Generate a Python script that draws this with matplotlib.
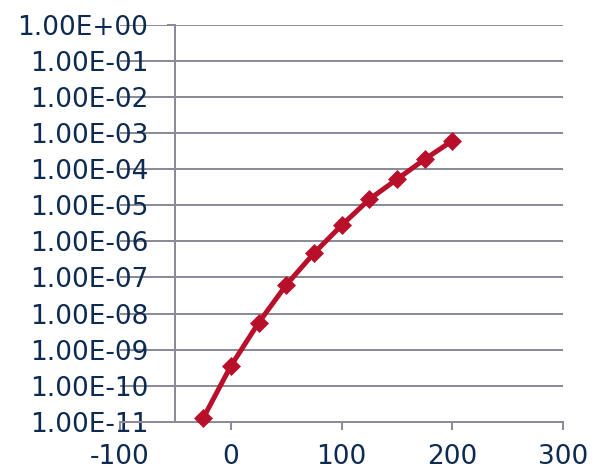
import matplotlib
matplotlib.use("Agg")
import matplotlib.pyplot as plt
from matplotlib.ticker import FixedLocator, FuncFormatter

# Data
temperature = [-25, 0, 25, 50, 75, 100, 125, 150, 175, 200]
values = [1.24e-11, 3.5e-10, 5.5e-9, 6.2e-8, 4.7e-7, 2.8e-6, 1.47e-5, 5.3e-5, 1.9e-4, 6.2e-4]
x_ticks = [-100, 0, 100, 200, 300]
y_exponents = list(range(0, -12, -1))

TEXT = "#0D2A50"
GRID = "#8A8D99"
RED = "#B80F2A"
DPI = 100
px = 72.0 / DPI

fig = plt.figure(figsize=(6.06, 4.76), dpi=DPI)
ax = fig.add_axes([120 / 606, 1 - 421.7 / 476, (563.3 - 120) / 606, (421.7 - 25) / 476])

ax.set_yscale("log")
ax.set_xlim(-100, 300)
ax.set_ylim(1e-11, 1e0)

ax.plot(temperature, values, color=RED, lw=5 * px, marker="D", ms=9.5,
        mfc=RED, mec=RED, mew=0.5, zorder=5, clip_on=False)

ax.xaxis.set_major_locator(FixedLocator(x_ticks))
ax.xaxis.set_major_formatter(FuncFormatter(lambda v, p: f"{int(v)}"))
ax.yaxis.set_major_locator(FixedLocator([10.0 ** e for e in y_exponents]))
ax.yaxis.set_minor_locator(FixedLocator([]))
ax.yaxis.set_major_formatter(FuncFormatter(lambda v, p: f"{v:.2E}"))

for s in ("top", "right"):
    ax.spines[s].set_visible(False)
ax.spines["left"].set_position(("data", -50))
for s in ("left", "bottom"):
    ax.spines[s].set_color(GRID)
    ax.spines[s].set_linewidth(2 * px)

ax.grid(axis="y", color=GRID, lw=2 * px, zorder=0)
ax.set_axisbelow(True)

ax.tick_params(axis="both", direction="out", color=GRID, width=2 * px, length=8 * px,
               labelcolor=TEXT, labelsize=19.0)
ax.tick_params(axis="y", pad=19 * px)
ax.tick_params(axis="x", pad=14 * px)

fig.savefig("out.png", dpi=DPI)
